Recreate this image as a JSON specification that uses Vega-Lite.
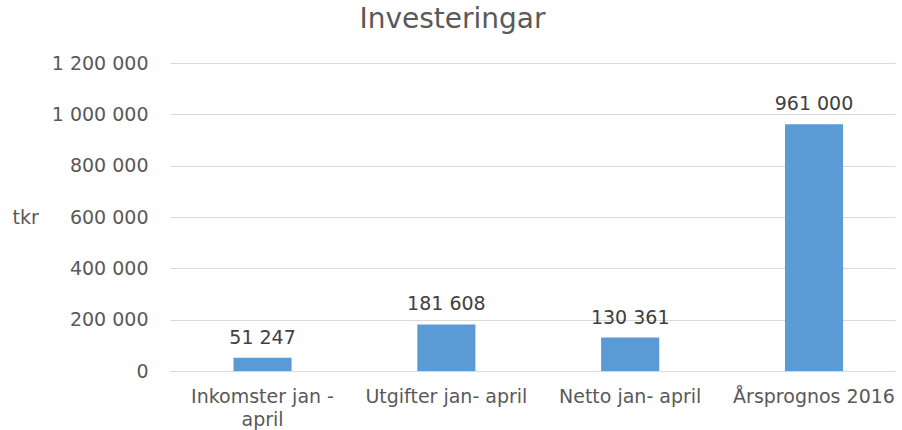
{
  "$schema": "https://vega.github.io/schema/vega-lite/v6.json",
  "width": 725,
  "height": 308,
  "autosize": "none",
  "padding": {"left": 170, "top": 63, "right": 7, "bottom": 59},
  "background": "white",
  "config": {
    "locale": {"number": {"decimal": ",", "thousands": " ", "grouping": [3], "currency": ["", " kr"]}},
    "font": "DejaVu Sans",
    "view": {"stroke": null}
  },
  "title": {
    "text": "Investeringar",
    "fontSize": 28,
    "font": "DejaVu Sans",
    "fontWeight": "normal",
    "color": "#595959",
    "anchor": "middle",
    "dx": -80,
    "offset": 20
  },
  "data": {
    "values": [
      {"kategori": "Inkomster jan - april", "varde": 51247},
      {"kategori": "Utgifter jan- april", "varde": 181608},
      {"kategori": "Netto jan- april", "varde": 130361},
      {"kategori": "Årsprognos 2016", "varde": 961000}
    ]
  },
  "encoding": {
    "x": {
      "field": "kategori",
      "type": "nominal",
      "sort": null,
      "scale": {"paddingInner": 0.684, "paddingOuter": 0.314, "align": 0.55},
      "axis": {
        "title": null,
        "labelAngle": 0,
        "labelFontSize": 19,
        "labelColor": "#595959",
        "labelPadding": 16,
        "labelLineHeight": 23,
        "ticks": false,
        "domainColor": "#d9d9d9",
        "labelExpr": "datum.label == 'Inkomster jan - april' ? ['Inkomster jan -', 'april'] : datum.label"
      }
    },
    "y": {
      "field": "varde",
      "type": "quantitative",
      "scale": {"domain": [0, 1200000]},
      "axis": {
        "values": [0, 200000, 400000, 600000, 800000, 1000000, 1200000],
        "format": ",d",
        "title": "tkr",
        "titleAngle": 0,
        "titleX": -158,
        "titleY": 154,
        "titleAlign": "left",
        "titleBaseline": "middle",
        "titleFontSize": 19,
        "titleFontWeight": "normal",
        "titleColor": "#595959",
        "labelFontSize": 19,
        "labelColor": "#595959",
        "labelPadding": 22,
        "ticks": false,
        "domain": false,
        "gridColor": "#d9d9d9"
      }
    }
  },
  "layer": [
    {"mark": {"type": "bar", "color": "#5B9BD5"}},
    {
      "mark": {"type": "text", "baseline": "alphabetic", "dy": -14, "fontSize": 19, "color": "#404040"},
      "encoding": {"text": {"field": "varde", "type": "quantitative", "format": ",d"}}
    }
  ]
}
